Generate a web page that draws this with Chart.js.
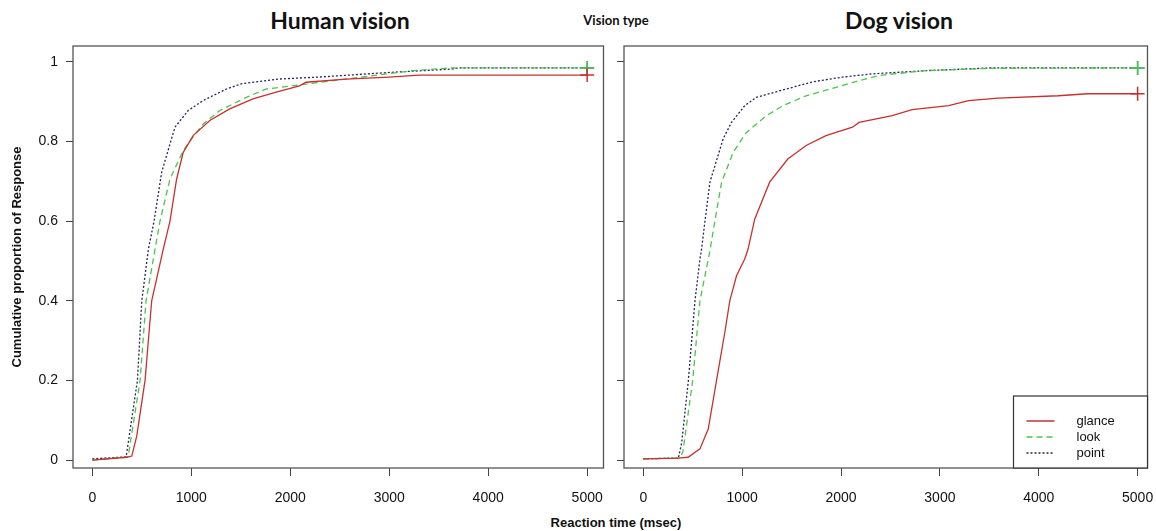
<!DOCTYPE html>
<html>
<head>
<meta charset="utf-8">
<script src="https://cdn.jsdelivr.net/npm/chart.js@4.4.1/dist/chart.umd.min.js"></script>
<style>
  body { margin: 0; background: #fff; width: 1156px; height: 531px; position: relative; overflow: hidden; }
  canvas { position: absolute; top: 0; }
  #human-chart { left: 0; }
  #dog-chart { left: 612px; }
  .lbl { position: absolute; transform: translate(-50%, -50%); white-space: nowrap; color: #111; }
  .panel-title { font: bold 23px Lato, "Open Sans", sans-serif; top: 20px; }
  .small-title { font: bold 13px Lato, "Open Sans", sans-serif; top: 20px; left: 616px; }
  .x-title { font: bold 13px "Liberation Sans", Arial, sans-serif; top: 522px; left: 616px; }
</style>
</head>
<body>
<div class="lbl panel-title" style="left:340px">Human vision</div>
<div class="lbl small-title">Vision type</div>
<div class="lbl panel-title" style="left:899px">Dog vision</div>
<div class="lbl x-title">Reaction time (msec)</div>
<canvas id="human-chart" width="612" height="531"></canvas>
<canvas id="dog-chart" width="544" height="531"></canvas>
<script>
// values (x = msec, y = cumulative proportion)
const seriesNames = ['glance', 'look', 'point'];
const xTicks = [0, 1000, 2000, 3000, 4000, 5000];
const yTicks = [0, 0.2, 0.4, 0.6, 0.8, 1];

// Human vision
const humanGlanceX = [0, 349, 399, 449, 533, 600, 650, 717, 785, 852, 919, 1019, 1187, 1388, 1623, 1858, 2093, 2160, 2562, 2998, 3300, 5000];
const humanGlanceY = [0, 0.007, 0.01, 0.06, 0.2, 0.4, 0.455, 0.53, 0.6, 0.706, 0.773, 0.815, 0.853, 0.882, 0.907, 0.924, 0.94, 0.949, 0.957, 0.962, 0.967, 0.967];
const humanLookX = [0, 349, 363, 483, 543, 634, 684, 785, 919, 1003, 1120, 1288, 1556, 1757, 2022, 2300, 2562, 3229, 3632, 5000];
const humanLookY = [0, 0.007, 0.01, 0.2, 0.4, 0.53, 0.6, 0.706, 0.777, 0.807, 0.844, 0.878, 0.911, 0.932, 0.94, 0.949, 0.957, 0.978, 0.985, 0.985];
const humanPointX = [0, 342, 456, 500, 567, 624, 701, 835, 969, 1120, 1355, 1506, 1891, 2294, 3028, 3632, 3700, 5000];
const humanPointY = [0.003, 0.008, 0.2, 0.4, 0.53, 0.6, 0.723, 0.836, 0.878, 0.903, 0.932, 0.945, 0.957, 0.962, 0.974, 0.982, 0.985, 0.985];

// Dog vision
const dogGlanceX = [0, 355, 453, 573, 657, 741, 825, 875, 943, 1026, 1060, 1127, 1278, 1462, 1647, 1848, 2116, 2183, 2518, 2719, 3089, 3290, 3592, 4195, 4497, 5000];
const dogGlanceY = [0.003, 0.005, 0.007, 0.028, 0.078, 0.2, 0.321, 0.4, 0.463, 0.505, 0.53, 0.605, 0.698, 0.756, 0.79, 0.815, 0.836, 0.848, 0.865, 0.88, 0.89, 0.903, 0.909, 0.915, 0.92, 0.92];
const dogLookX = [0, 370, 400, 500, 573, 670, 724, 792, 909, 1043, 1245, 1412, 1647, 1949, 2183, 2384, 2854, 3521, 5000];
const dogLookY = [0.003, 0.005, 0.02, 0.2, 0.4, 0.52, 0.6, 0.698, 0.773, 0.823, 0.865, 0.89, 0.915, 0.936, 0.953, 0.966, 0.978, 0.984, 0.985];
const dogPointX = [0, 355, 389, 456, 523, 573, 590, 624, 674, 808, 892, 1026, 1143, 1446, 1714, 2016, 2317, 2854, 3521, 5000];
const dogPointY = [0.003, 0.005, 0.044, 0.2, 0.4, 0.505, 0.53, 0.6, 0.698, 0.807, 0.848, 0.89, 0.911, 0.932, 0.95, 0.962, 0.97, 0.978, 0.985, 0.985];

const colors = ['#c8302e', '#4cc54c', '#23235e'];
const markerColors = ['#c8302e', '#4cc54c', '#3d70aa'];
const dashes = [[], [6, 4], [2, 2]];

const frame = {
    id: 'frame',
    afterDraw(chart) {
        const {ctx, chartArea: a} = chart;
        ctx.save();
        ctx.strokeStyle = '#555';
        ctx.lineWidth = 1.3;
        ctx.strokeRect(a.left, a.top, a.right - a.left, a.bottom - a.top);
        ctx.restore();
    }
};

const legendBox = {
    id: 'legendBox',
    afterDraw(chart, args, opts) {
        if (!opts.show) return;
        const {ctx, chartArea: a} = chart;
        const w = 134, h = 72, x = a.right - w, y = a.bottom - h;
        ctx.save();
        ctx.fillStyle = '#fff';
        ctx.fillRect(x, y, w, h);
        ctx.strokeStyle = '#333';
        ctx.lineWidth = 1.2;
        ctx.strokeRect(x, y, w, h);
        chart.data.datasets.forEach((ds, i) => {
            const ly = y + 25 + i * 16;
            ctx.strokeStyle = ds.borderColor;
            ctx.lineWidth = 1.5;
            ctx.setLineDash(ds.borderDash);
            ctx.beginPath(); ctx.moveTo(x + 13, ly); ctx.lineTo(x + 41, ly); ctx.stroke();
            ctx.setLineDash([]);
            ctx.fillStyle = '#111';
            ctx.font = '13px "Liberation Sans", Arial, sans-serif';
            ctx.textBaseline = 'middle';
            ctx.fillText(ds.label, x + 63, ly);
        });
        ctx.restore();
    }
};

function toPoints(xs, ys) { return xs.map((x, i) => ({x, y: ys[i]})); }

function createChart(id, series, isLeft) {
    const datasets = series.map((s, i) => ({
        label: seriesNames[i],
        data: toPoints(s[0], s[1]),
        borderColor: colors[i],
        borderDash: dashes[i],
        borderWidth: 1.3,
        tension: 0,
        pointStyle: 'cross',
        pointRadius: ctx => ctx.dataIndex === s[0].length - 1 ? 7 : 0,
        pointBorderColor: markerColors[i],
        pointBorderWidth: 1.5
    }));
    const tickFont = {family: '"Liberation Sans", Arial, sans-serif', size: 14};

    return new Chart(document.getElementById(id), {
        type: 'line',
        data: {datasets},
        options: {
            responsive: false,
            animation: false,
            layout: {padding: {top: 46, right: isLeft ? 7 : 1, left: 0, bottom: 0}},
            plugins: {legend: {display: false}, tooltip: {enabled: false}, legendBox: {show: !isLeft}},
            scales: {
                x: {
                    type: 'linear', min: -195, max: isLeft ? 5165 : 5100,
                    afterBuildTicks: sc => { sc.ticks = xTicks.map(v => ({value: v})); },
                    afterFit: sc => { sc.height = 63; sc.paddingLeft = 0; sc.paddingRight = 0; },
                    grid: {drawOnChartArea: false, drawTicks: true, tickLength: 8, color: '#444'},
                    border: {display: false},
                    ticks: {font: tickFont, color: '#111', padding: 14, maxRotation: 0, callback: v => String(v)}
                },
                y: {
                    type: 'linear', min: -0.02, max: 1.04,
                    afterBuildTicks: sc => { sc.ticks = yTicks.map(v => ({value: v})); },
                    afterFit: sc => { sc.width = isLeft ? 73 : 12; sc.paddingTop = 0; sc.paddingBottom = 0; },
                    grid: {drawOnChartArea: false, drawTicks: true, tickLength: 7, color: '#444'},
                    border: {display: false},
                    ticks: {font: tickFont, color: '#111', padding: 8, callback: v => isLeft ? String(v) : ''},
                    title: {
                        display: isLeft, text: 'Cumulative proportion of Response', color: '#111',
                        font: {family: '"Liberation Sans", Arial, sans-serif', size: 13, weight: 'bold'},
                        padding: {top: 10, bottom: 0}
                    }
                }
            }
        },
        plugins: [frame, legendBox]
    });
}

createChart('human-chart', [[humanGlanceX, humanGlanceY], [humanLookX, humanLookY], [humanPointX, humanPointY]], true);
createChart('dog-chart', [[dogGlanceX, dogGlanceY], [dogLookX, dogLookY], [dogPointX, dogPointY]], false);
</script>
</body>
</html>
